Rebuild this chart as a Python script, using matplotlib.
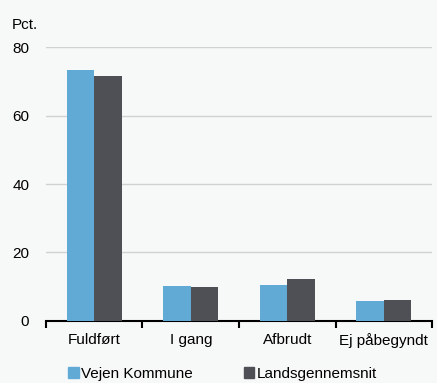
import numpy as np
import matplotlib.pyplot as plt
from matplotlib.patches import Patch

plt.rcParams['font.family'] = ['Liberation Sans', 'DejaVu Sans']

# Data
categories = ['Fuldført', 'I gang', 'Afbrudt', 'Ej påbegyndt']
vejen = [73.2, 10.2, 10.6, 5.9]
lands = [71.7, 9.9, 12.2, 6.0]
series_names = ['Vejen Kommune', 'Landsgennemsnit']
yticks = [0, 20, 40, 60, 80]

BLUE = '#62aad6'
DARK = '#4e5055'
BG = '#f7f8f8'

fig = plt.figure(figsize=(4.37, 3.83), dpi=100, facecolor=BG)
ax = fig.add_axes([0.105, 0.162, 0.884, 0.715], facecolor=BG)

x = np.arange(len(categories))
w = 0.285
ax.bar(x - w / 2, vejen, w, color=BLUE, zorder=3)
ax.bar(x + w / 2, lands, w, color=DARK, zorder=3)

ax.set_xlim(-0.5, len(categories) - 0.5)
ax.set_ylim(0, 80)
ax.set_yticks(yticks)
ax.tick_params(axis='y', length=0, labelsize=11, pad=12)
for v in yticks[1:]:
    ax.axhline(v, color='#d0d1d1', lw=1, zorder=1)

# category labels at centers, tick marks at boundaries
ax.set_xticks(x)
ax.set_xticklabels(categories, fontsize=11)
ax.tick_params(axis='x', which='major', length=0, pad=9)
ax.set_xticks(np.arange(len(categories) + 1) - 0.5, minor=True)
ax.tick_params(axis='x', which='minor', length=5, width=1.5, color='black')

for s in ['top', 'right', 'left']:
    ax.spines[s].set_visible(False)
ax.spines['bottom'].set_linewidth(1.5)

fig.text(0.027, 0.925, 'Pct.', fontsize=11)

handles = [Patch(color=BLUE), Patch(color=DARK)]
fig.legend(handles, series_names, loc='lower left', bbox_to_anchor=(0.125, -0.03),
           ncol=2, frameon=False, fontsize=11, handlelength=0.7, handleheight=0.7,
           handletextpad=0.15, columnspacing=3.3)

fig.savefig('out.png', dpi=100, facecolor=BG)
